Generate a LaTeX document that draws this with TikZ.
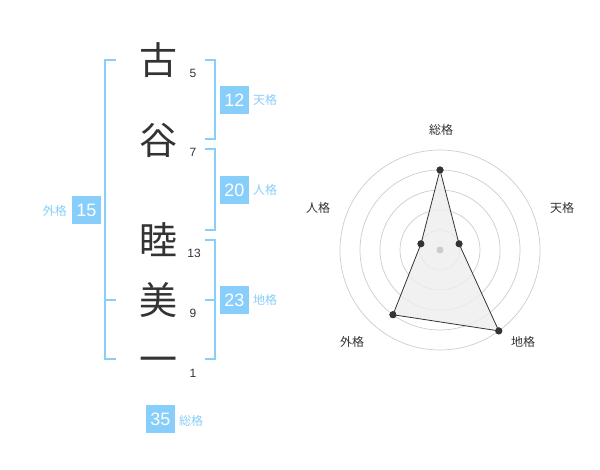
\documentclass[tikz,border=0pt]{standalone}
\usepackage{fontspec}
\setmainfont{Liberation Sans}
\newfontfamily\jp{Noto Sans CJK JP}
\definecolor{sky}{HTML}{87CEFA}
\definecolor{ink}{HTML}{333333}
\definecolor{ring}{HTML}{CCCCCC}
\definecolor{area}{HTML}{EEEEEE}
\begin{document}
\begin{tikzpicture}[x=1pt,y=-1pt,
  kanji/.style={font=\jp\fontsize{38}{38}\selectfont, text=ink, inner sep=0pt, anchor=base},
  strokes/.style={font=\fontsize{12}{12}\selectfont, text=ink, inner sep=0pt},
  valbox/.style={fill=sky, text=white, minimum width=29pt, minimum height=28pt, inner sep=0pt, font=\fontsize{18}{18}\selectfont},
  vallabel/.style={text=sky, font=\jp\fontsize{12}{12}\selectfont, inner sep=0pt},
  bracket/.style={draw=sky, line width=1.5pt},
  ringline/.style={draw=ring, line width=0.7pt},
  dot/.style={circle, fill=ink, inner sep=0pt, minimum size=7pt},
  axislabel/.style={font=\jp\fontsize{12}{12}\selectfont, text=ink, inner sep=0pt}]
\useasboundingbox (0,0) rectangle (600,470);
% name characters (baseline = visual centre + 0.38em)
\node[kanji] (k1) at (158,74.4) {古};
\node[kanji] (k2) at (158,154.4) {谷};
\node[kanji] (k3) at (158,254.4) {睦};
\node[kanji] (k4) at (158,314.4) {美};
\node[kanji] (k5) at (158,373.4) {一};
% stroke counts
\node[strokes] (n1) at (193,73) {5};
\node[strokes] (n2) at (193,152) {7};
\node[strokes] (n3) at (194,253) {13};
\node[strokes] (n4) at (193,313) {9};
\node[strokes] (n5) at (193,373) {1};
% brackets
\draw[bracket] (116,60) -- (105,60) -- (105,359) -- (116,359);
\draw[bracket] (105,300) -- (116,300);
\draw[bracket] (205,60) -- (215,60) -- (215,139) -- (205,139);
\draw[bracket] (205,149) -- (215,149) -- (215,230) -- (205,230);
\draw[bracket] (205,240) -- (215,240) -- (215,359) -- (205,359);
\draw[bracket] (205,300) -- (215,300);
% values
\node[valbox] (v12) at (234.5,100) {12};
\node[vallabel, anchor=west] (l12) at (253,100) {天格};
\node[valbox] (v20) at (234.5,190) {20};
\node[vallabel, anchor=west] (l20) at (253,190) {人格};
\node[valbox] (v23) at (234.5,300) {23};
\node[vallabel, anchor=west] (l23) at (253,300) {地格};
\node[valbox] (v15) at (86.5,210) {15};
\node[vallabel, anchor=east] (l15) at (67,211) {外格};
\node[valbox] (v35) at (160.5,419) {35};
\node[vallabel, anchor=west] (l35) at (179,421) {総格};
% radar
\coordinate (c) at (440,250);
\foreach \r in {20,40,60,80,100} \draw[ringline] (c) circle[radius=\r];
\node[dot] (p1) at (440,170) {};
\node[dot] (p2) at (459.02,243.82) {};
\node[dot] (p3) at (498.78,330.90) {};
\node[dot] (p4) at (392.98,314.72) {};
\node[dot] (p5) at (420.98,243.82) {};
\draw[fill=area, fill opacity=0.8, draw=ink, line width=0.8pt] (p1.center) -- (p2.center) -- (p3.center) -- (p4.center) -- (p5.center) -- cycle;
\foreach \p in {p1,p2,p3,p4,p5} \fill[ink] (\p) circle[radius=3.5];
\fill[ring] (c) circle[radius=3.5];
\node[axislabel] (a1) at (441,130) {総格};
\node[axislabel] (a2) at (562,208) {天格};
\node[axislabel] (a3) at (523,342) {地格};
\node[axislabel] (a4) at (352,342) {外格};
\node[axislabel] (a5) at (318,208) {人格};
\end{tikzpicture}
\end{document}
